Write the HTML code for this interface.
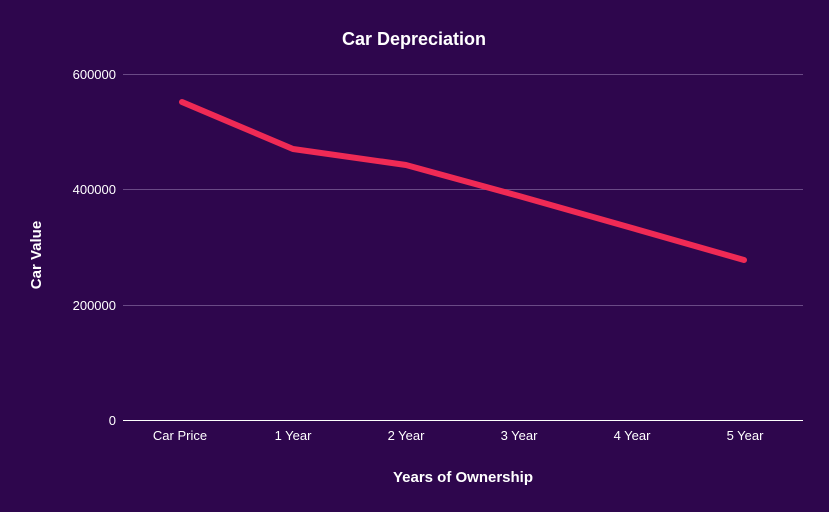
<!DOCTYPE html>
<html><head><style>
body{margin:0;background:#2e064d;}
svg{display:block;font-family:"Liberation Sans",Arial,sans-serif;}
</style></head><body>
<svg width="829" height="512" viewBox="0 0 829 512">
<rect width="829" height="512" fill="#2e064d"/>
<text x="414" y="45" fill="#fff" font-size="18" font-weight="bold" text-anchor="middle">Car Depreciation</text>
<g stroke="#6a4a86" stroke-width="1">
<line x1="123" y1="74.5" x2="803" y2="74.5"/>
<line x1="123" y1="189.5" x2="803" y2="189.5"/>
<line x1="123" y1="305.5" x2="803" y2="305.5"/>
</g>
<line x1="123" y1="420.5" x2="803" y2="420.5" stroke="#ffffff" stroke-width="1"/>
<g fill="#fff" font-size="13" text-anchor="end">
<text x="116" y="79">600000</text>
<text x="116" y="194">400000</text>
<text x="116" y="310">200000</text>
<text x="116" y="425">0</text>
</g>
<g fill="#fff" font-size="13" text-anchor="middle">
<text x="180" y="440">Car Price</text>
<text x="293" y="440">1 Year</text>
<text x="406" y="440">2 Year</text>
<text x="519" y="440">3 Year</text>
<text x="632" y="440">4 Year</text>
<text x="745" y="440">5 Year</text>
</g>
<text x="463" y="482" fill="#fff" font-size="15" font-weight="bold" text-anchor="middle">Years of Ownership</text>
<text transform="translate(41,255) rotate(-90)" fill="#fff" font-size="15" font-weight="bold" text-anchor="middle">Car Value</text>
<polyline points="182,102 293,149 406,165 519,196 632,228 744,260" fill="none" stroke="#ef2a55" stroke-width="6" stroke-linecap="round" stroke-linejoin="round"/>
</svg>
</body></html>
